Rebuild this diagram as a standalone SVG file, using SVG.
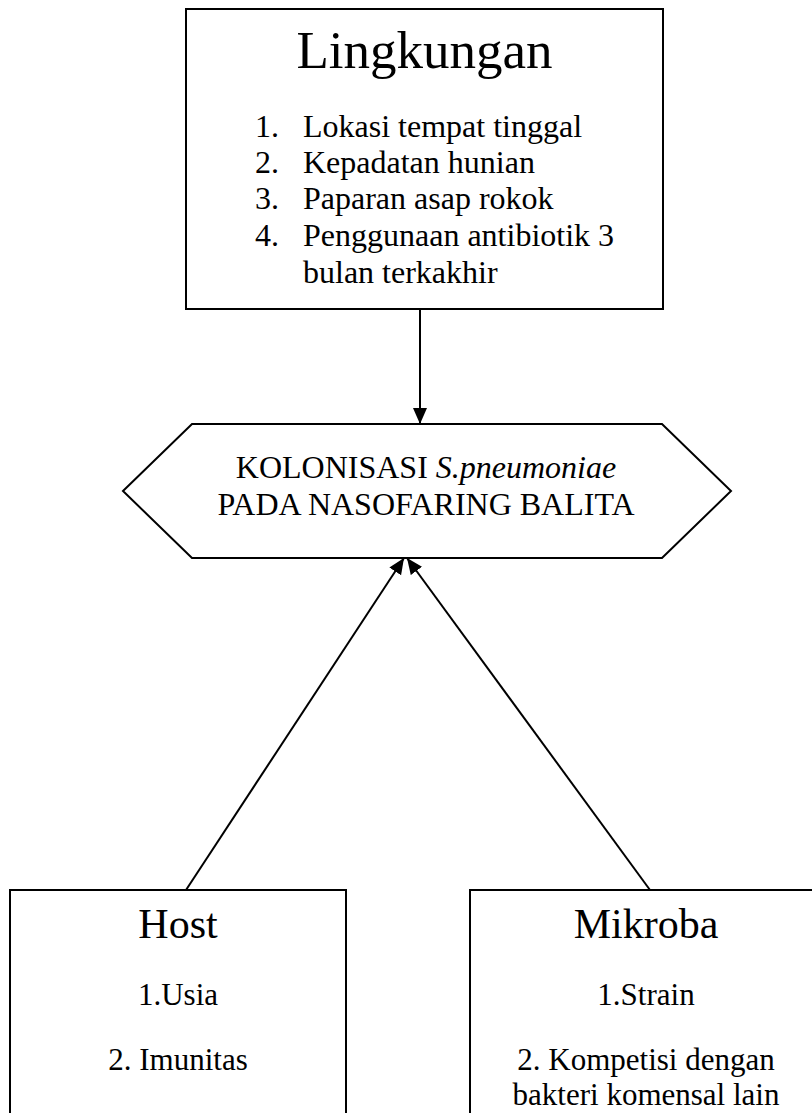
<svg xmlns="http://www.w3.org/2000/svg" width="812" height="1113" viewBox="0 0 812 1113">
<style>
.box{fill:#fff;stroke:#000;stroke-width:2}
.t{font-family:"Liberation Serif","Times New Roman",serif;fill:#000}
.c{text-anchor:middle}
.conn{stroke:#000;stroke-width:2;fill:none}
</style>
<defs>
<marker id="ah" markerUnits="userSpaceOnUse" markerWidth="16" markerHeight="16" viewBox="0 0 16 14" refX="16" refY="7" orient="auto">
<path d="M0,0 L16,7 L0,14 Z" fill="#000"/>
</marker>
</defs>
<g id="connectors">
<line class="conn" x1="420" y1="309" x2="420" y2="424" marker-end="url(#ah)"/>
<line class="conn" x1="186" y1="890" x2="404" y2="558" marker-end="url(#ah)"/>
<line class="conn" x1="650" y1="890" x2="407" y2="558" marker-end="url(#ah)"/>
</g>
<g id="lingkungan">
<rect class="box" x="186" y="9" width="477" height="300"/>
<text class="t c" x="424.5" y="68" font-size="53">Lingkungan</text>
<g class="t" font-size="32">
<text x="255" y="137">1.</text><text x="303" y="137">Lokasi tempat tinggal</text>
<text x="255" y="173">2.</text><text x="303" y="173">Kepadatan hunian</text>
<text x="255" y="209">3.</text><text x="303" y="209">Paparan asap rokok</text>
<text x="255" y="246">4.</text><text x="303" y="246">Penggunaan antibiotik 3</text>
<text x="303" y="283">bulan terkakhir</text>
</g>
</g>
<g id="kolonisasi">
<polygon class="box" points="123,491 192,424 662,424 731,491 662,558 192,558"/>
<text class="t c" x="426" y="478" font-size="32">KOLONISASI <tspan font-style="italic">S.pneumoniae</tspan></text>
<text class="t c" x="426" y="515" font-size="32">PADA NASOFARING BALITA</text>
</g>
<g id="host">
<rect class="box" x="10" y="890" width="336" height="240"/>
<text class="t c" x="178" y="938" font-size="42">Host</text>
<text class="t c" x="178" y="1005" font-size="31">1.Usia</text>
<text class="t c" x="178" y="1070" font-size="31">2. Imunitas</text>
</g>
<g id="mikroba">
<rect class="box" x="470" y="890" width="353" height="240"/>
<text class="t c" x="646" y="938" font-size="42">Mikroba</text>
<text class="t c" x="646" y="1005" font-size="31">1.Strain</text>
<text class="t c" x="646" y="1070" font-size="31">2. Kompetisi dengan</text>
<text class="t c" x="646" y="1105" font-size="31">bakteri komensal lain</text>
</g>
</svg>
